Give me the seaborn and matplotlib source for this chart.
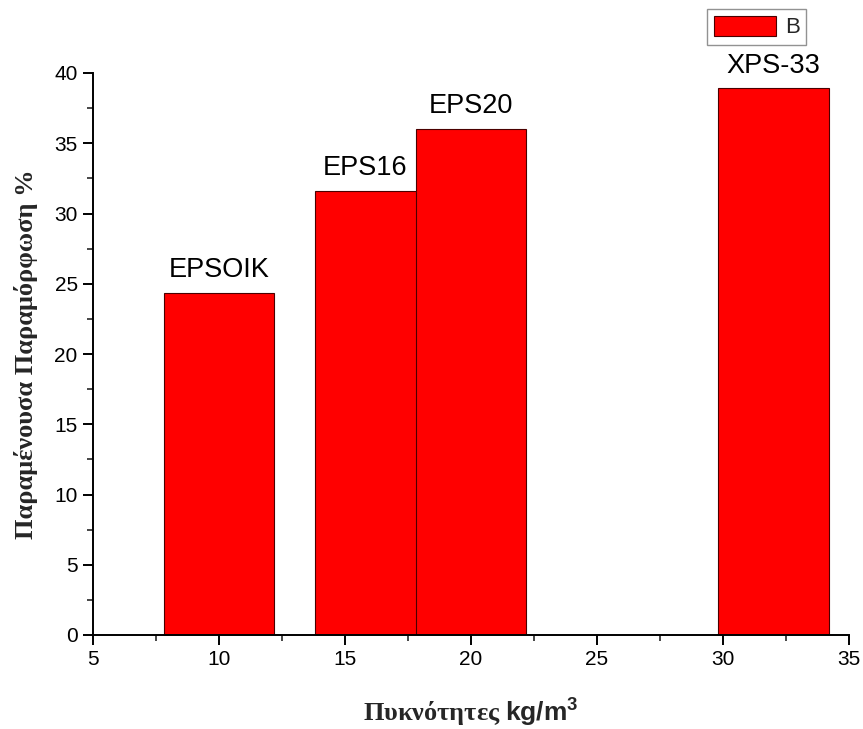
import matplotlib
matplotlib.use("Agg")
import matplotlib.pyplot as plt
from matplotlib.ticker import MultipleLocator
import pandas as pd
import seaborn as sns

# Measured samples: density (kg/m^3) and residual deformation (%)
materials = ["EPSOIK", "EPS16", "EPS20", "XPS-33"]
density = [10, 16, 20, 32]
deformation = [24.35, 31.6, 36.0, 38.9]
series = ["B", "B", "B", "B"]

df = pd.DataFrame({"density": density, "deformation": deformation,
                   "series": series, "material": materials})

sns.set_style("ticks")
plt.rcParams["font.family"] = ["Liberation Sans", "DejaVu Sans"]
plt.rcParams["mathtext.fontset"] = "custom"
plt.rcParams["mathtext.sf"] = "Liberation Sans:bold"
plt.rcParams["mathtext.rm"] = "Liberation Serif:bold"

fig = plt.figure(figsize=(8.63, 7.29), dpi=100)
ax = fig.add_axes([93 / 863, 1 - 635 / 729, (849 - 93) / 863, (635 - 73) / 729])

sns.barplot(data=df, x="density", y="deformation", hue="series",
            palette={"B": "#ff0000"}, native_scale=True, width=1.1,
            errorbar=None, edgecolor="#4a0000", linewidth=0.8,
            saturation=1, ax=ax)

ax.set_xlim(5, 35)
ax.set_ylim(0, 40)
ax.xaxis.set_major_locator(MultipleLocator(5))
ax.xaxis.set_minor_locator(MultipleLocator(2.5))
ax.yaxis.set_major_locator(MultipleLocator(5))
ax.yaxis.set_minor_locator(MultipleLocator(2.5))
ax.tick_params(which="major", direction="out", length=7, width=1.4,
               labelsize=15, colors="black", pad=4)
ax.tick_params(which="minor", direction="out", length=4, width=1.2)
sns.despine(ax=ax)
for side in ("left", "bottom"):
    ax.spines[side].set_linewidth(1.4)
    ax.spines[side].set_color("black")

# Name each bar above its visible part
bars = sorted(ax.containers[0].patches, key=lambda p: p.get_x())
for i, (bar, name) in enumerate(zip(bars, materials)):
    left = bar.get_x()
    right = left + bar.get_width()
    if i + 1 < len(bars):
        right = min(right, bars[i + 1].get_x())
    ax.annotate(name, xy=((left + right) / 2, bar.get_height()),
                xytext=(0, 7), textcoords="offset points",
                ha="center", va="bottom", fontsize=19.5, color="black")

ax.set_xlabel("Πυκνότητες $\\mathsf{kg/m^3}$", fontsize=19,
              fontfamily="Liberation Serif", fontweight="bold", labelpad=20)
ax.set_ylabel("Παραμένουσα Παραμόρφωση %", fontsize=19,
              fontfamily="Liberation Serif", fontweight="bold", labelpad=12)

sns.move_legend(ax, "upper left", bbox_to_anchor=(707 / 863, 1 - 9 / 729),
                bbox_transform=fig.transFigure, title=None, frameon=True,
                fancybox=False, fontsize=16, handlelength=2.8,
                handleheight=1.0, borderpad=0.3, handletextpad=0.4,
                borderaxespad=0)
leg = ax.get_legend()
leg.get_frame().set_edgecolor("#777777")
leg.get_frame().set_linewidth(1.0)

fig.savefig("out.png", dpi=100, facecolor="white")
